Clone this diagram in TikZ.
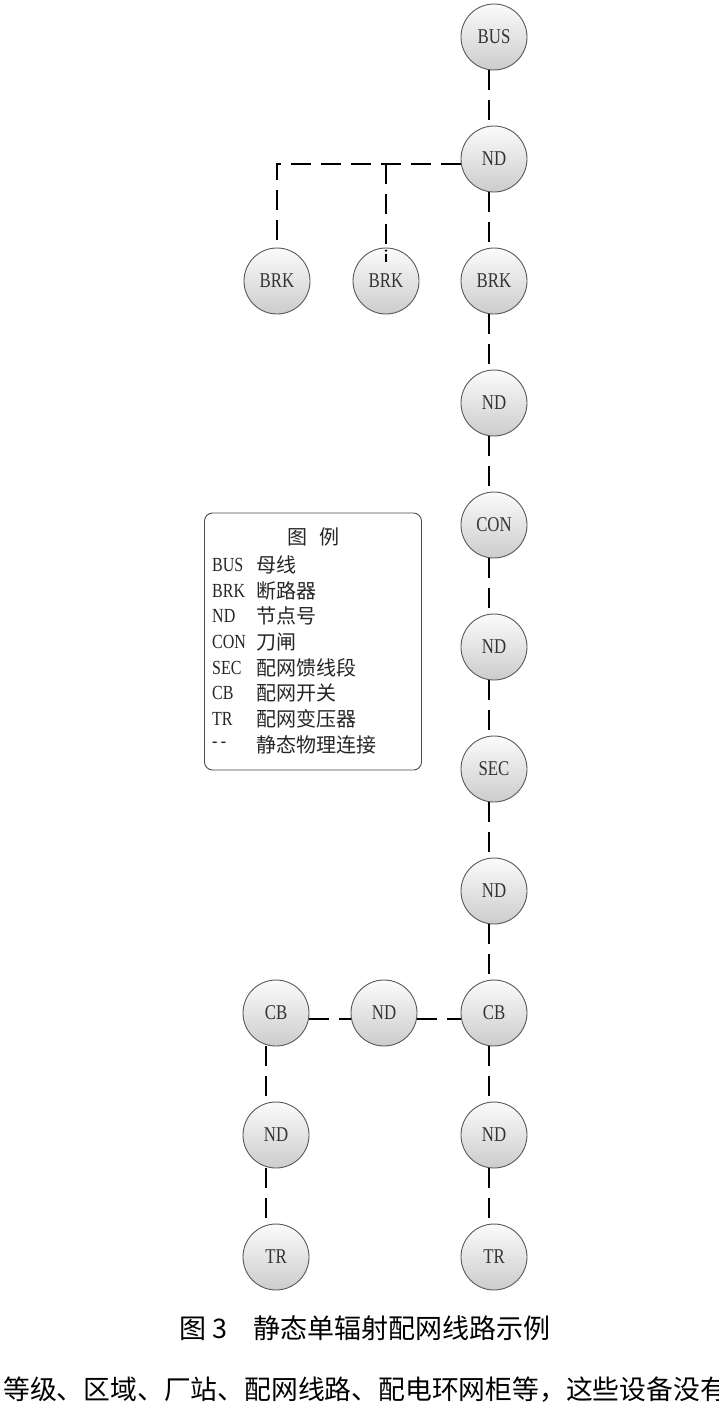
\documentclass[tikz,border=0pt]{standalone}
\usepackage{fontspec}
\newfontfamily\latfont[FakeStretch=0.8]{Liberation Serif}
\newfontfamily\cjk{Noto Sans CJK SC}
\tikzset{
  circ/.style={circle, draw=black!65, line width=0.9pt, top color=gray!3, bottom color=gray!40,
    minimum size=66pt, inner sep=0pt, font=\latfont\fontsize{21}{21}\selectfont, text=black!80},
  conn/.style={line width=2.6pt, dash pattern=on 20pt off 10pt},
  leglat/.style={anchor=west, inner sep=0pt, font=\latfont\fontsize{20}{20}\selectfont, text=black!85},
  legcjk/.style={anchor=west, inner sep=0pt, font=\cjk\fontsize{20}{20}\selectfont, text=black!85},
}
\begin{document}
\begin{tikzpicture}[x=1pt, y=-1pt]
\path[use as bounding box, fill=white] (0,0) rectangle (718,1421);
% main column
\node[circ] (bus) at (494,37) {BUS};
\node[circ] (nd1) at (494,159) {ND};
\node[circ] (brk3) at (494,281) {BRK};
\node[circ] (brk1) at (277,281) {BRK};
\node[circ] (brk2) at (386,281) {BRK};
\node[circ] (nd2) at (494,403) {ND};
\node[circ] (con) at (494,525) {CON};
\node[circ] (nd3) at (494,647) {ND};
\node[circ] (sec) at (494,769) {SEC};
\node[circ] (nd4) at (494,891) {ND};
\node[circ] (cb1) at (494,1013) {CB};
\node[circ] (nd5) at (494,1135) {ND};
\node[circ] (tr1) at (494,1257) {TR};
\node[circ] (cb2) at (276,1013) {CB};
\node[circ] (ndm) at (384,1013) {ND};
\node[circ] (nd6) at (276,1135) {ND};
\node[circ] (tr2) at (276,1257) {TR};
% connectors
\draw[conn] ([xshift=-5pt]bus.south) -- ([xshift=-5pt]nd1.north);
\draw[conn] ([xshift=-5pt]nd1.south) -- ([xshift=-5pt]brk3.north);
\coordinate (nd1w) at ([yshift=-5pt]nd1.west);
\draw[conn] (nd1w) -| (brk1.north);
\draw[conn] (nd1w -| brk2.north) -- ([yshift=-14pt]brk2.north);
\fill ([yshift=-3pt]brk2.north) circle (1.3pt);
\draw[conn] ([xshift=-5pt]brk3.south) -- ([xshift=-5pt]nd2.north);
\draw[conn] ([xshift=-5pt]nd2.south) -- ([xshift=-5pt]con.north);
\draw[conn] ([xshift=-5pt]con.south) -- ([xshift=-5pt]nd3.north);
\draw[conn] ([xshift=-5pt]nd3.south) -- ([xshift=-5pt]sec.north);
\draw[conn] ([xshift=-5pt]sec.south) -- ([xshift=-5pt]nd4.north);
\draw[conn] ([xshift=-5pt]nd4.south) -- ([xshift=-5pt]cb1.north);
\draw[conn] ([xshift=-5pt]cb1.south) -- ([xshift=-5pt]nd5.north);
\draw[conn] ([xshift=-5pt]nd5.south) -- ([xshift=-5pt]tr1.north);
\draw[conn] ([yshift=-6pt]cb2.east) -- ([yshift=-6pt]ndm.west);
\draw[conn] ([yshift=-6pt]ndm.east) -- ([yshift=-6pt]cb1.west);
\draw[conn] ([xshift=-10pt]cb2.south) -- ([xshift=-10pt]nd6.north);
\draw[conn] ([xshift=-10pt]nd6.south) -- ([xshift=-10pt]tr2.north);
% legend
\node[draw=black!70, rounded corners=8pt, line width=0.9pt, minimum width=217pt, minimum height=257pt, inner sep=0pt] (legend) at (313,641.5) {};
\node[inner sep=0pt, font=\cjk\fontsize{20}{20}\selectfont, text=black!85] (lt) at (313,537) {图\hspace{12pt}例};
\node[leglat] (l1) at (212,565) {BUS};
\node[legcjk] (c1) at (256,565) {母线};
\node[leglat] (l2) at (212,590.5) {BRK};
\node[legcjk] (c2) at (256,590.5) {断路器};
\node[leglat] (l3) at (212,616) {ND};
\node[legcjk] (c3) at (256,616) {节点号};
\node[leglat] (l4) at (212,642) {CON};
\node[legcjk] (c4) at (256,642) {刀闸};
\node[leglat] (l5) at (212,667.5) {SEC};
\node[legcjk] (c5) at (256,667.5) {配网馈线段};
\node[leglat] (l6) at (212,693) {CB};
\node[legcjk] (c6) at (256,693) {配网开关};
\node[leglat] (l7) at (212,719) {TR};
\node[legcjk] (c7) at (256,719) {配网变压器};
\node[leglat] (l8) at (212,745) {-\,-};
\node[legcjk] (c8) at (256,745) {静态物理连接};
% caption
\node[anchor=west, inner sep=0pt, font=\cjk\fontsize{27}{27}\selectfont] (cap) at (179,1328) {图\hspace{6pt}3\hspace{26pt}静态单辐射配网线路示例};
\node[anchor=west, inner sep=0pt, font=\cjk\fontsize{26.8}{26.8}\selectfont] (body) at (3,1390) {等级、区域、厂站、配网线路、配电环网柜等，这些设备没有};
\end{tikzpicture}
\end{document}
